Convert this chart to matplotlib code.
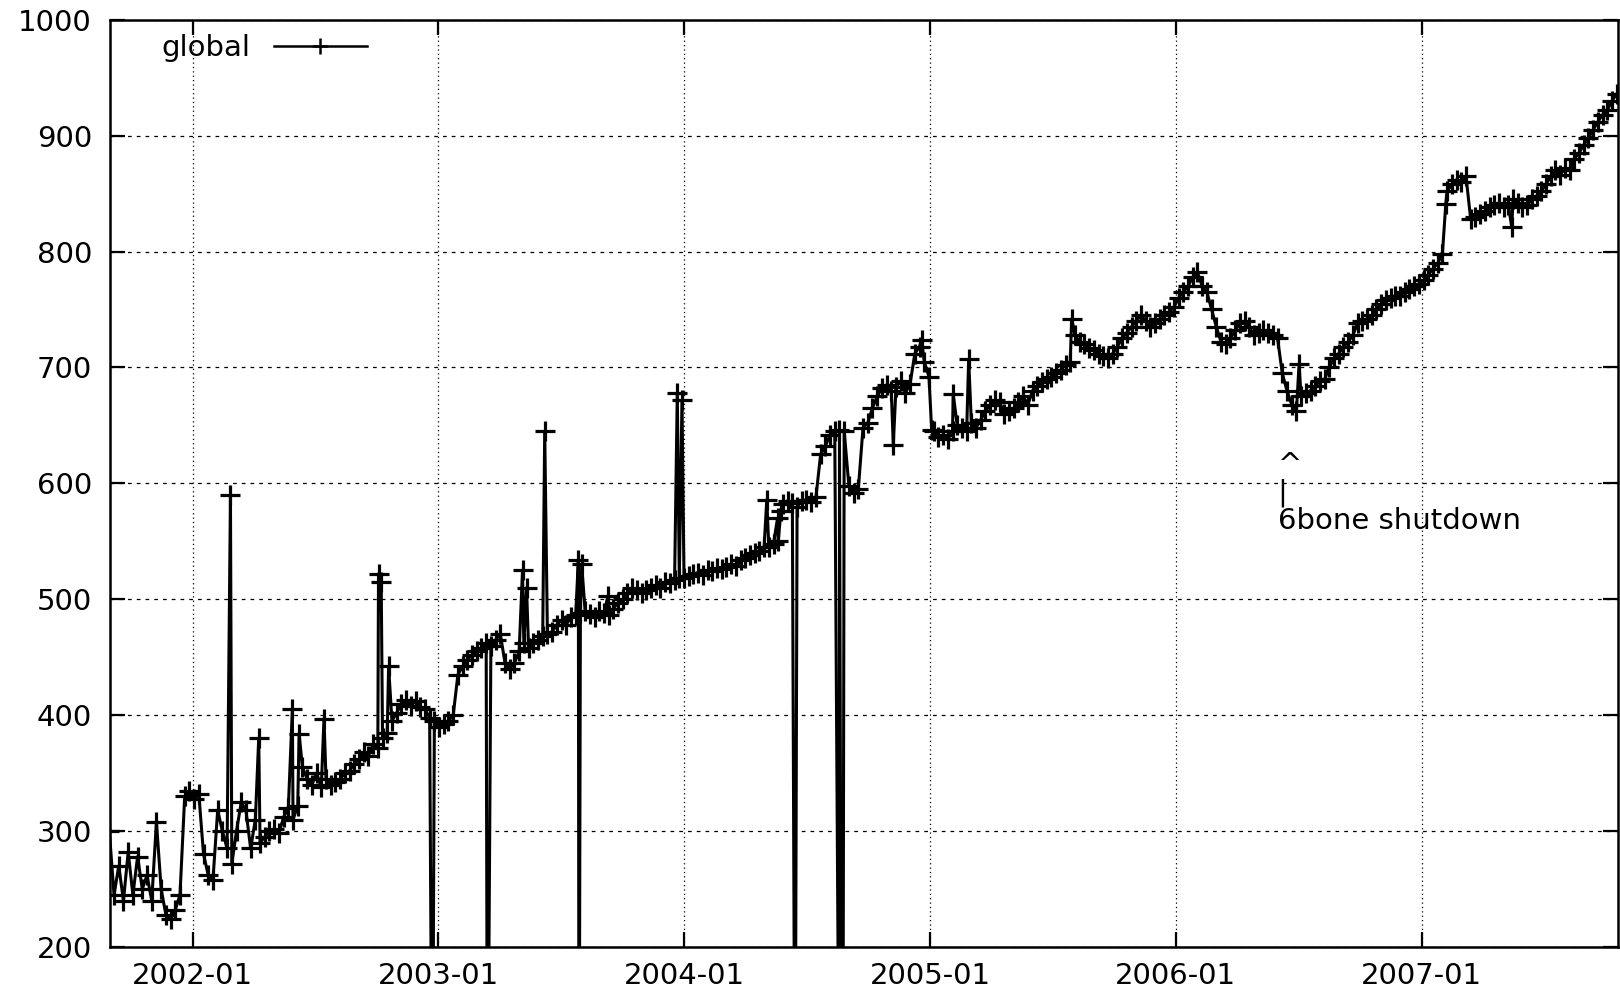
import pandas as pd
import matplotlib
matplotlib.use("Agg")
import matplotlib.pyplot as plt
import matplotlib.dates as mdates

plt.rcParams['font.family'] = ['DejaVu Sans']

# weekly samples starting 2001-08-30
start_date = "2001-08-30"
weekly_values = [
    300, 245, 270, 240, 282, 245, 278, 250, 262, 240, 308, 250, 228,
    224, 232, 245, 330, 335, 328, 332, 280, 262, 258, 318, 300, 285,
    272, 300, 325, 318, 285, 310, 290, 295, 300, 302, 298, 312, 320,
    310, 322, 355, 345, 340, 350, 338, 345, 340, 342, 345, 350, 352,
    358, 362, 368, 365, 375, 372, 380, 385, 395, 402, 410, 413, 408,
    412, 407, 405, 398, 395, 390, 392, 395, 400, 435, 442, 448, 452,
    455, 458, 462, 460, 465, 470, 445, 440, 445, 455, 462, 458, 462,
    465, 468, 470, 472, 478, 482, 478, 485, 486, 488, 490, 487, 485,
    490, 488, 486, 492, 497, 500, 505, 510, 508, 505, 508, 510, 512,
    510, 515, 514, 517, 518, 518, 520, 522, 523, 521, 525, 524, 527,
    526, 528, 530, 529, 534, 536, 538, 540, 542, 545, 545, 548, 550,
    582, 585, 583, 580, 585, 586, 584, 588, 625, 632, 642, 645, 646,
    645, 598, 592, 595, 648, 652, 665, 675, 682, 685, 680, 683, 688,
    678, 686, 712, 718, 705, 692, 645, 640, 642, 638, 645, 650, 648,
    645, 652, 648, 655, 662, 668, 672, 670, 660, 662, 665, 670, 675,
    668, 680, 684, 687, 690, 692, 695, 698, 702, 705, 728, 722, 720,
    717, 715, 712, 710, 708, 712, 718, 725, 730, 735, 740, 745, 740,
    735, 738, 742, 745, 748, 752, 760, 765, 770, 778, 782, 770, 765,
    750, 735, 722, 720, 725, 732, 738, 740, 735, 728, 730, 732, 730,
    728, 725, 695, 680, 668, 662, 675, 678, 680, 684, 688, 690, 700,
    708, 712, 718, 722, 728, 738, 740, 742, 745, 750, 755, 758, 760,
    762, 762, 765, 768, 770, 772, 775, 780, 785, 790, 798, 852, 858,
    862, 860, 865, 828, 830, 832, 835, 838, 840, 842, 838, 840, 845,
    842, 838, 840, 845, 848, 852, 858, 865, 870, 866, 872, 870, 880,
    885, 892, 898, 905, 912, 918, 922, 930, 936,
]

# single-day outliers (0 = dropped to nothing)
spike_dates = [
    "2002-02-26", "2002-04-09", "2002-05-29", "2002-06-08", "2002-07-15",
    "2002-10-04", "2002-10-08", "2002-10-19", "2002-12-23", "2003-03-15",
    "2003-05-06", "2003-05-12", "2003-06-08", "2003-07-28", "2003-07-29",
    "2003-08-02", "2003-09-10", "2003-12-22", "2003-12-29", "2004-05-03",
    "2004-05-19", "2004-05-24", "2004-06-14", "2004-08-19", "2004-08-22",
    "2004-08-24", "2004-11-07", "2004-12-19", "2005-01-03", "2005-02-04",
    "2005-02-27", "2005-07-30", "2006-07-03", "2007-02-06", "2007-05-15",
]
spike_values = [
    590, 380, 405, 384, 397,
    522, 515, 442, 0, 0,
    525, 510, 645, 534, 0,
    530, 503, 678, 672, 586,
    570, 576, 0, 0, 0,
    0, 633, 724, 646, 677,
    707, 742, 703, 841, 821,
]

x_ticks = ["2002-01-01", "2003-01-01", "2004-01-01", "2005-01-01",
           "2006-01-01", "2007-01-01"]

weekly = pd.DataFrame({
    "date": pd.date_range(start_date, periods=len(weekly_values), freq="7D"),
    "routes": weekly_values,
})
spikes = pd.DataFrame({"date": pd.to_datetime(spike_dates), "routes": spike_values})
df = pd.concat([weekly, spikes]).sort_values("date")

fig = plt.figure(figsize=(16.2, 9.93), dpi=100)
ax = fig.add_axes([0.0679, 0.0463, 0.9309, 0.9339])

ax.plot(df["date"], df["routes"], color="black", linewidth=2.2,
        marker="+", markersize=15, markeredgewidth=2.3, label="global")

ax.set_ylim(200, 1000)
ax.set_xlim(pd.Timestamp("2001-08-31"), pd.Timestamp("2007-10-20"))
ax.set_yticks(range(200, 1001, 100))
ax.set_xticks(pd.to_datetime(x_ticks))
ax.xaxis.set_major_formatter(mdates.DateFormatter("%Y-%m"))

# gnuplot look
ax.tick_params(direction="in", length=11, width=1.6, labelsize=21,
               top=True, right=True)
ax.tick_params(axis="y", pad=13)
ax.tick_params(axis="x", pad=11)
for s in ax.spines.values():
    s.set_linewidth(1.8)
ax.yaxis.grid(True, color="black", linestyle=(0, (3, 4)), linewidth=0.9)
ax.xaxis.grid(True, color="black", linestyle=(0, (1, 2.5)), linewidth=0.9)

leg = ax.legend(loc="upper left", bbox_to_anchor=(0.034, 0.984), frameon=False,
                markerfirst=False, handlelength=3.2, handletextpad=0.8,
                borderpad=0, borderaxespad=0, fontsize=21, numpoints=1)
for h in leg.legend_handles:
    h.set_markersize(12)
    h.set_linewidth(1.8)
    h.set_markeredgewidth(1.8)

# annotation
ax.text(pd.Timestamp("2006-06-01"), 628, "^\n|\n6bone shutdown",
        fontsize=21, va="top", ha="left", linespacing=0.98)

fig.savefig("out.png", dpi=100)
